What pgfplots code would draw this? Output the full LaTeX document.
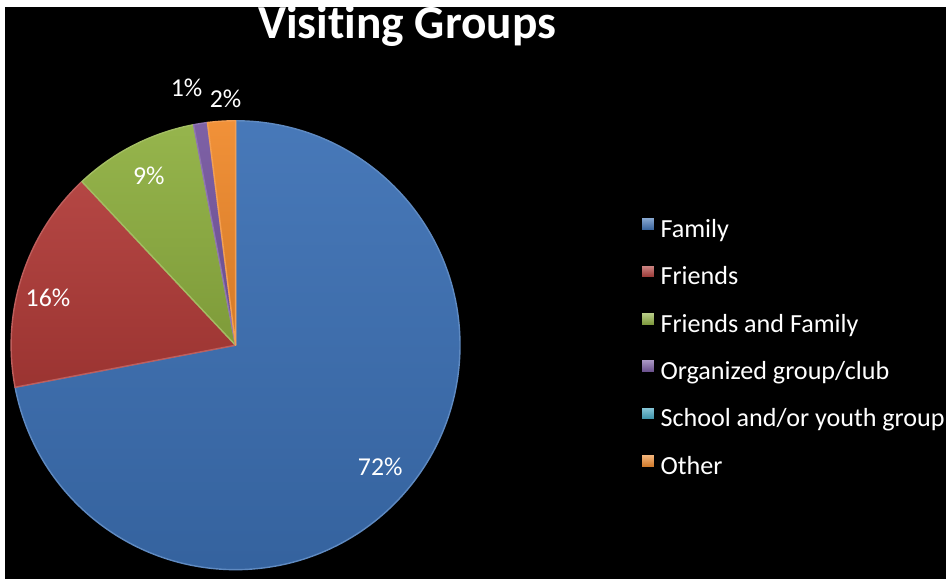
\documentclass[border=0pt]{standalone}
\usepackage{pgfplots}
\pgfplotsset{compat=1.18}
\usepackage{pgfplotstable}
\usepackage{fontspec}
\setmainfont[Ligatures=NoCommon]{Carlito}
\definecolor{cFam}{HTML}{3C70B4}
\definecolor{cFri}{HTML}{B03B38}
\definecolor{cFaF}{HTML}{8FB041}
\definecolor{cOrg}{HTML}{7657A0}
\definecolor{cSch}{HTML}{3FA6C2}
\definecolor{cOth}{HTML}{F08A2C}

\pgfplotstableread{
name value color
Family 72 cFam
Friends 16 cFri
FriendsFamily 9 cFaF
Organized 1 cOrg
School 0 cSch
Other 2 cOth
}\datatable

\begin{document}
\begin{tikzpicture}
\begin{axis}[
  x=0.02cm, y=0.02cm,
  xmin=0, xmax=950, ymin=0, ymax=580,
  hide axis, clip=false,
  legend style={
    at={(axis cs:637,366)}, anchor=north west,
    draw=none, fill=none, text=white,
    font=\fontsize{14.9}{17}\selectfont,
    row sep=12.0pt, column sep=3.4pt,
    nodes={inner sep=0pt, text height=10pt, text depth=3.6pt},
  },
  legend cell align=left,
]
\fill[white] (axis cs:0,0) rectangle (axis cs:950,580);
\fill[black] (axis cs:5,0) rectangle (axis cs:948,573);

\def\astart{90}
\pgfplotsforeachungrouped \i in {0,...,5} {%
  \pgfplotstablegetelem{\i}{value}\of\datatable \let\v\pgfplotsretval
  \pgfplotstablegetelem{\i}{color}\of\datatable \let\c\pgfplotsretval
  \pgfmathsetmacro\aend{\astart-3.6*\v}%
  \ifdim\v pt>0pt
    \edef\temp{\noexpand\shadedraw[top color=\c!94!white, bottom color=\c!88!black, draw=\c!82!white, line width=0.8pt, line join=round] (axis cs:236,234) -- ++(\astart:4.5cm) arc[start angle=\astart, end angle=\aend, radius=4.5cm] -- cycle;}%
    \temp
  \fi
  \global\let\astart\aend
}

\addlegendimage{legend image code/.code={\shade[top color=cFam!60!white, bottom color=cFam!85!black] (0pt,0.8pt) rectangle (7.2pt,8pt);}}
\addlegendentry{Family}
\addlegendimage{legend image code/.code={\shade[top color=cFri!60!white, bottom color=cFri!85!black] (0pt,0.8pt) rectangle (7.2pt,8pt);}}
\addlegendentry{Friends}
\addlegendimage{legend image code/.code={\shade[top color=cFaF!60!white, bottom color=cFaF!85!black] (0pt,0.8pt) rectangle (7.2pt,8pt);}}
\addlegendentry{Friends and Family}
\addlegendimage{legend image code/.code={\shade[top color=cOrg!60!white, bottom color=cOrg!85!black] (0pt,0.8pt) rectangle (7.2pt,8pt);}}
\addlegendentry{Organized group/club}
\addlegendimage{legend image code/.code={\shade[top color=cSch!60!white, bottom color=cSch!85!black] (0pt,0.8pt) rectangle (7.2pt,8pt);}}
\addlegendentry{School and/or youth group}
\addlegendimage{legend image code/.code={\shade[top color=cOth!60!white, bottom color=cOth!85!black] (0pt,0.8pt) rectangle (7.2pt,8pt);}}
\addlegendentry{Other}

\node[anchor=base, inner sep=0pt, text=white, font=\fontsize{27}{30}\selectfont\bfseries] at (axis cs:408,541) {Visiting Groups};
\begin{scope}[every node/.style={anchor=base, inner sep=0pt, text=white, font=\fontsize{14.7}{17}\selectfont}]
\node at (axis cs:381,103) {72\%};
\node at (axis cs:48,273) {16\%};
\node at (axis cs:149,395) {9\%};
\node at (axis cs:187,483) {1\%};
\node at (axis cs:226,472) {2\%};
\end{scope}
\end{axis}
\end{tikzpicture}
\end{document}
